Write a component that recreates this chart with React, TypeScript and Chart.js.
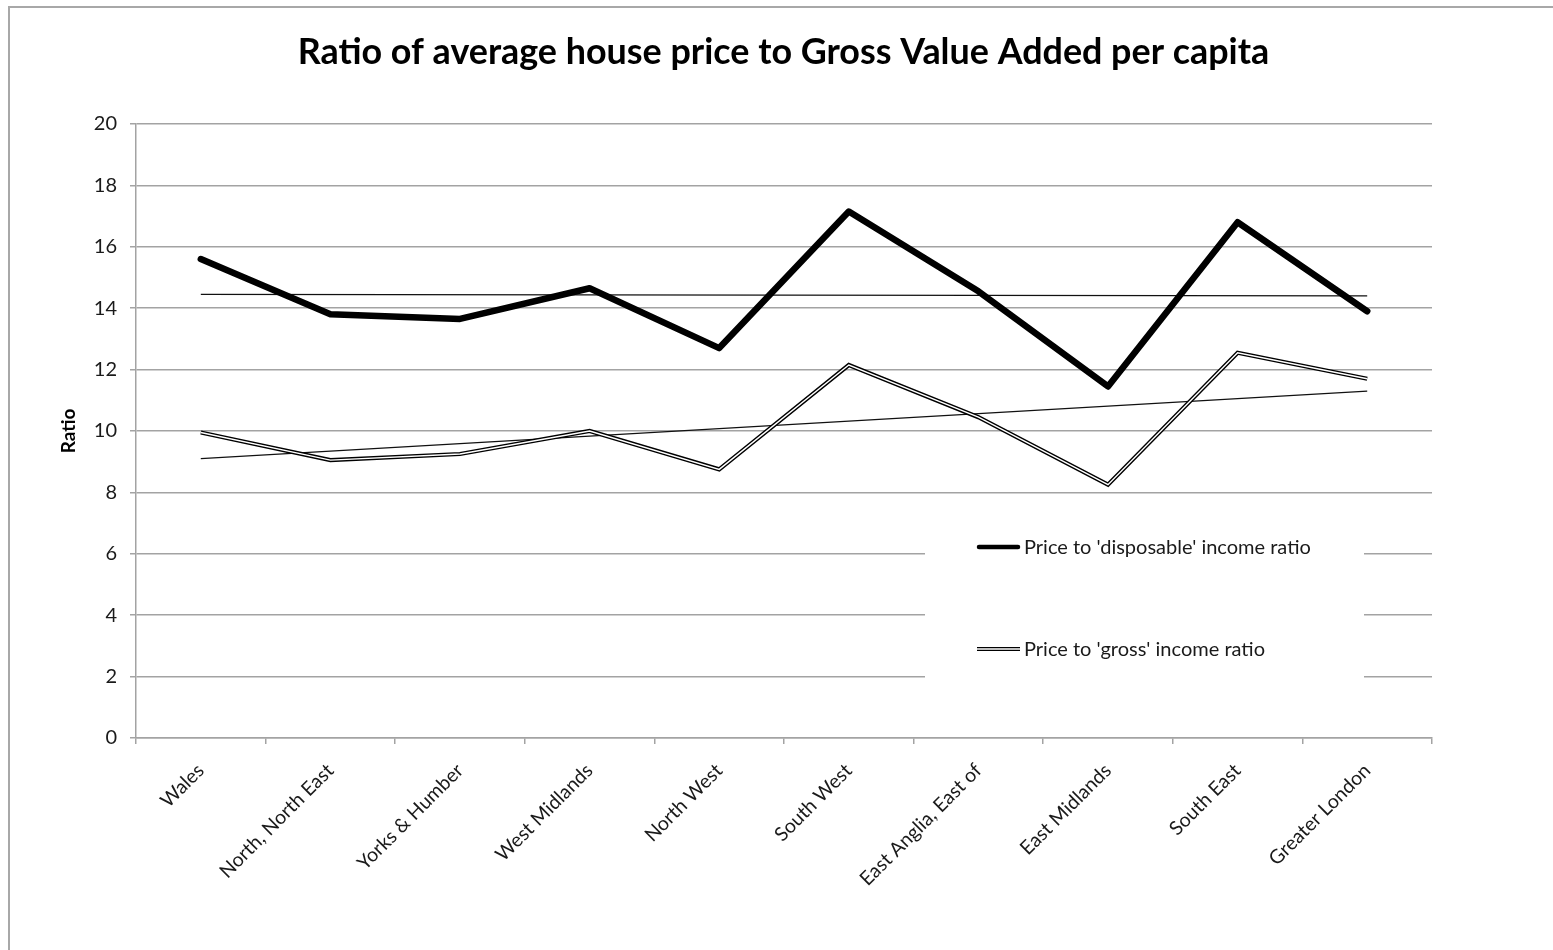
import React, { useEffect, useRef } from "react";
import { Chart, registerables } from "chart.js";

Chart.register(...registerables);

const TITLE = "Ratio of average house price to Gross Value Added per capita";
const Y_TITLE = "Ratio";
const CATEGORIES = [
  "Wales",
  "North, North East",
  "Yorks & Humber",
  "West Midlands",
  "North West",
  "South West",
  "East Anglia, East of",
  "East Midlands",
  "South East",
  "Greater London",
];
const DISPOSABLE_LABEL = "Price to 'disposable' income ratio";
const GROSS_LABEL = "Price to 'gross' income ratio";
const DISPOSABLE = [15.6, 13.8, 13.65, 14.65, 12.7, 17.15, 14.55, 11.45, 16.8, 13.9];
const GROSS = [9.95, 9.05, 9.25, 10.0, 8.75, 12.15, 10.45, 8.25, 12.55, 11.7];
// linear trend lines (start and end values)
const DISPOSABLE_TREND = [14.45, null, null, null, null, null, null, null, null, 14.4];
const GROSS_TREND = [9.1, null, null, null, null, null, null, null, null, 11.3];
const Y_MIN = 0;
const Y_MAX = 20;
const Y_STEP = 2;

const FONT = "Lato, 'Open Sans', 'DejaVu Sans', sans-serif";
const GRID = "#a3a3a3";

function fitSize(text: string, weight: string, target: number): number {
  const c = document.createElement("canvas").getContext("2d")!;
  c.font = `${weight} 100px ${FONT}`;
  const w = c.measureText(text).width;
  return (100 * target) / w;
}

export default function App() {
  const ref = useRef<HTMLCanvasElement | null>(null);

  useEffect(() => {
    document.body.style.margin = "0";
    document.body.style.overflow = "hidden";
    const canvas = ref.current!;
    const titleSize = fitSize(TITLE, "bold", 972);
    const legendSize = fitSize(DISPOSABLE_LABEL, "normal", 287);

    const legendPlugin = {
      id: "boxLegend",
      afterDatasetsDraw(chart: any) {
        const ctx = chart.ctx;
        const a = chart.chartArea;
        ctx.save();
        ctx.fillStyle = "#ffffff";
        ctx.fillRect(a.left + 789, a.top + 374, 439, 222);
        const items = [
          { label: DISPOSABLE_LABEL, y: a.top + 423, double: false },
          { label: GROSS_LABEL, y: a.top + 525, double: true },
        ];
        for (const it of items) {
          const x0 = a.left + 841;
          const x1 = a.left + 884;
          ctx.lineCap = "butt";
          if (it.double) {
            ctx.strokeStyle = "#000";
            ctx.lineWidth = 4;
            ctx.beginPath();
            ctx.moveTo(x0, it.y);
            ctx.lineTo(x1, it.y);
            ctx.stroke();
            ctx.strokeStyle = "#fff";
            ctx.lineWidth = 1.4;
            ctx.beginPath();
            ctx.moveTo(x0, it.y);
            ctx.lineTo(x1, it.y);
            ctx.stroke();
          } else {
            ctx.strokeStyle = "#000";
            ctx.lineWidth = 4.5;
            ctx.lineCap = "round";
            ctx.beginPath();
            ctx.moveTo(x0 + 2, it.y);
            ctx.lineTo(x1 - 2, it.y);
            ctx.stroke();
          }
          ctx.fillStyle = "#1a1a1a";
          ctx.font = `${legendSize}px ${FONT}`;
          ctx.textAlign = "left";
          ctx.textBaseline = "middle";
          ctx.fillText(it.label, a.left + 888, it.y + 1);
        }
        ctx.restore();
      },
    };

    const chart = new Chart(canvas, {
      type: "line",
      data: {
        labels: CATEGORIES,
        datasets: [
          {
            label: DISPOSABLE_LABEL,
            data: DISPOSABLE,
            borderColor: "#000",
            borderWidth: 6.5,
            borderCapStyle: "round",
            borderJoinStyle: "round",
            pointRadius: 0,
            tension: 0,
            fill: false,
            order: 1,
          },
          {
            label: GROSS_LABEL + " (edge)",
            data: GROSS,
            borderColor: "#000",
            borderWidth: 4.2,
            borderJoinStyle: "miter",
            pointRadius: 0,
            tension: 0,
            fill: false,
            order: 3,
          },
          {
            label: GROSS_LABEL,
            data: GROSS,
            borderColor: "#fff",
            borderWidth: 1.4,
            borderJoinStyle: "miter",
            pointRadius: 0,
            tension: 0,
            fill: false,
            order: 2,
          },
          {
            label: "Linear (disposable)",
            data: DISPOSABLE_TREND,
            borderColor: "#111",
            borderWidth: 1.3,
            pointRadius: 0,
            spanGaps: true,
            fill: false,
            order: 4,
          },
          {
            label: "Linear (gross)",
            data: GROSS_TREND,
            borderColor: "#111",
            borderWidth: 1.3,
            pointRadius: 0,
            spanGaps: true,
            fill: false,
            order: 4,
          },
        ],
      },
      options: {
        responsive: false,
        animation: false,
        devicePixelRatio: 1,
        layout: { padding: { top: 0, left: 14, right: 0, bottom: 0 } },
        plugins: {
          legend: { display: false },
          tooltip: { enabled: false },
          title: {
            display: true,
            text: TITLE,
            color: "#000",
            font: { family: FONT, size: titleSize, weight: "bold", lineHeight: 1.2 },
            padding: { top: 31, bottom: 124 - 31 - titleSize * 1.2 },
          },
        },
        scales: {
          x: {
            type: "category",
            offset: true,
            grid: {
              display: true,
              drawOnChartArea: false,
              drawTicks: true,
              tickLength: 6,
              offset: true,
              color: GRID,
              lineWidth: 1.5,
            },
            border: { display: true, color: GRID, width: 1.5 },
            ticks: {
              autoSkip: false,
              maxRotation: 45,
              minRotation: 45,
              padding: 15,
              color: "#1a1a1a",
              font: { family: FONT, size: 19.5 },
            },
            afterFit(scale: any) {
              scale.height = 212;
            },
          },
          y: {
            min: Y_MIN,
            max: Y_MAX,
            grid: {
              color: GRID,
              lineWidth: 1.5,
              tickLength: 6,
              drawTicks: true,
            },
            border: { display: true, color: GRID, width: 1.5 },
            ticks: {
              stepSize: Y_STEP,
              padding: 13,
              color: "#1a1a1a",
              font: { family: FONT, size: 20 },
            },
            title: {
              display: true,
              text: Y_TITLE,
              color: "#000",
              font: { family: FONT, size: 19, weight: "bold", lineHeight: 1.2 },
              padding: { top: 43, bottom: 0 },
            },
            afterFit(scale: any) {
              scale.width = 122;
            },
          },
          spacer: {
            type: "linear",
            position: "right",
            display: true,
            grid: { display: false, drawOnChartArea: false, drawTicks: false },
            border: { display: false },
            ticks: { display: false },
            afterFit(scale: any) {
              scale.width = 121;
            },
          },
        },
      },
      plugins: [legendPlugin],
    } as any);
    return () => chart.destroy();
  }, []);

  return (
    <div style={{ position: "relative", width: 1553, height: 950, overflow: "hidden", background: "#fff" }}>
      <canvas ref={ref} width={1553} height={950} style={{ position: "absolute", left: 0, top: 0, width: 1553, height: 950 }} />
      <div
        style={{
          position: "absolute",
          left: 8,
          top: 6,
          width: 1700,
          height: 1100,
          border: "2px solid #a8a8a8",
          pointerEvents: "none",
        }}
      />
    </div>
  );
}
